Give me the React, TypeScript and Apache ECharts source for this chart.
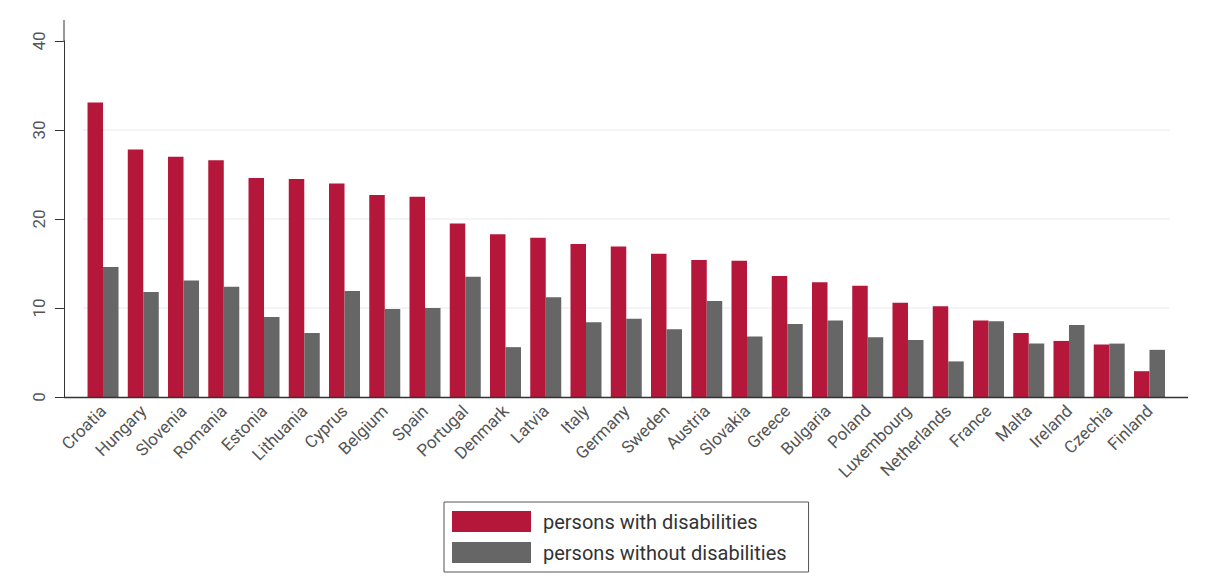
import React, { useEffect, useRef } from "react";
import * as echarts from "echarts";

const countries = [
  "Croatia", "Hungary", "Slovenia", "Romania", "Estonia", "Lithuania", "Cyprus",
  "Belgium", "Spain", "Portugal", "Denmark", "Latvia", "Italy", "Germany", "Sweden",
  "Austria", "Slovakia", "Greece", "Bulgaria", "Poland", "Luxembourg", "Netherlands",
  "France", "Malta", "Ireland", "Czechia", "Finland",
];
const withDisabilities = [
  33.1, 27.8, 27.0, 26.6, 24.6, 24.5, 24.0, 22.7, 22.5, 19.5, 18.3, 17.9, 17.2, 16.9,
  16.1, 15.4, 15.3, 13.6, 12.9, 12.5, 10.6, 10.2, 8.6, 7.2, 6.3, 5.9, 2.9,
];
const withoutDisabilities = [
  14.6, 11.8, 13.1, 12.4, 9.0, 7.2, 11.9, 9.9, 10.0, 13.5, 5.6, 11.2, 8.4, 8.8,
  7.6, 10.8, 6.8, 8.2, 8.6, 6.7, 6.4, 4.0, 8.5, 6.0, 8.1, 6.0, 5.3,
];
const seriesNames = ["persons with disabilities", "persons without disabilities"];
const yTicks = { min: 0, max: 40, interval: 10 };

export default function App() {
  const ref = useRef<HTMLDivElement>(null);
  useEffect(() => {
    if (!ref.current) return;
    const chart = echarts.init(ref.current, null, { renderer: "svg" });
    chart.setOption({
      animation: false,
      backgroundColor: "#ffffff",
      textStyle: { fontFamily: "Roboto" },
      grid: { left: 82.9, right: 42.4, top: 41, bottom: 182, containLabel: false },
      legend: {
        orient: "vertical",
        left: 444,
        top: 502,
        padding: [9, 22, 9, 8],
        borderColor: "#555",
        borderWidth: 1,
        itemWidth: 79,
        itemHeight: 21,
        itemGap: 10,
        textStyle: { fontSize: 20, color: "#333", padding: [0, 0, 0, 7] },
        data: seriesNames.map((n) => ({ name: n, icon: "rect" })),
      },
      xAxis: {
        type: "category",
        data: countries,
        axisLine: { show: false },
        axisTick: { show: false },
        axisLabel: {
          interval: 0,
          rotate: 45,
          fontSize: 17,
          color: "#555",
          margin: 11,
          fontFamily: "Roboto",
        },
      },
      yAxis: {
        type: "value",
        min: yTicks.min,
        max: yTicks.max,
        interval: yTicks.interval,
        offset: 19,
        axisLine: { show: true, lineStyle: { color: "#333", width: 1 } },
        axisTick: { show: true, length: 9, lineStyle: { color: "#333" } },
        axisLabel: {
          rotate: 90,
          fontSize: 17,
          color: "#555",
          margin: 16,
          fontFamily: "Roboto",
        },
        splitLine: {
          show: true,
          lineStyle: { color: ["transparent", "#eef2f5", "#eef2f5", "#eef2f5", "transparent"], width: 1.5 },
        },
      },
      graphic: [
        { type: "line", shape: { x1: 64, y1: 20, x2: 64, y2: 41 }, style: { stroke: "#333", lineWidth: 1 } },
        { type: "line", shape: { x1: 64, y1: 397.5, x2: 1188, y2: 397.5 }, style: { stroke: "#333", lineWidth: 1.5 }, z: 100 },
      ],
      series: [
        {
          name: seriesNames[0],
          type: "bar",
          data: withDisabilities,
          barWidth: 15.5,
          barGap: "0%",
          itemStyle: { color: "#b5173a" },
        },
        {
          name: seriesNames[1],
          type: "bar",
          data: withoutDisabilities,
          barWidth: 15.5,
          barGap: "0%",
          itemStyle: { color: "#666666" },
        },
      ],
    });
    return () => chart.dispose();
  }, []);
  return <div ref={ref} style={{ position: "fixed", left: 0, top: 0, width: 1212, height: 579 }} />;
}
